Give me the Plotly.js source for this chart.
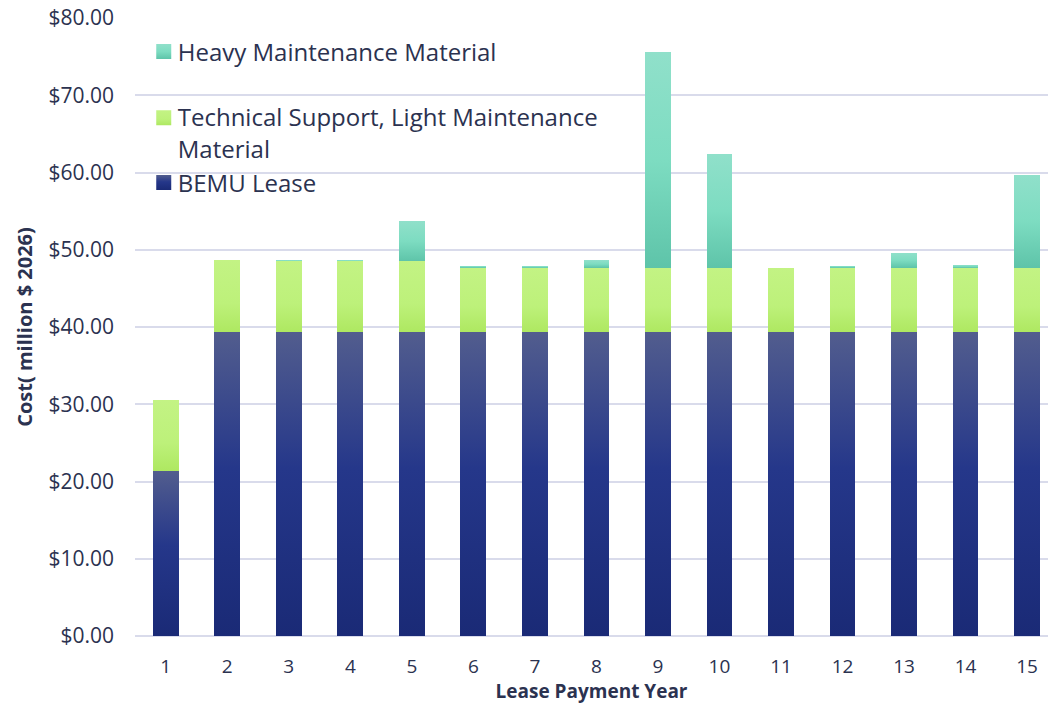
<!DOCTYPE html>
<html>
<head>
<meta charset="utf-8">
<script src="https://cdn.plot.ly/plotly-3.0.1.min.js"></script>
<style>
  html, body { margin: 0; padding: 0; background: #ffffff; }
  #chart { width: 1048px; height: 704px; }
</style>
</head>
<body>
<div id="chart"></div>
<script>
// ---- Data ----
var years = [1, 2, 3, 4, 5, 6, 7, 8, 9, 10, 11, 12, 13, 14, 15];
var bemuLease = [21.35, 39.35, 39.35, 39.35, 39.35, 39.35, 39.35, 39.35, 39.35, 39.35, 39.35, 39.35, 39.35, 39.35, 39.35];
var techSupport = [9.2, 9.3, 9.15, 9.15, 9.15, 8.3, 8.3, 8.3, 8.3, 8.3, 8.35, 8.3, 8.3, 8.3, 8.3];
var heavyMaint = [0, 0, 0.15, 0.15, 5.2, 0.3, 0.25, 1.0, 27.9, 14.75, 0, 0.3, 1.95, 0.4, 12.05];
var yTickVals = [0, 10, 20, 30, 40, 50, 60, 70, 80];
var yTickText = ["$0.00", "$10.00", "$20.00", "$30.00", "$40.00", "$50.00", "$60.00", "$70.00", "$80.00"];
var seriesNames = ["BEMU Lease", "Technical Support, Light Maintenance<br>Material", "Heavy Maintenance Material"];

var FONT = "Open Sans, Noto Sans, sans-serif";
var TXT = "#2b3250";

var traces = [
  { type: "bar", name: seriesNames[0], x: years, y: bemuLease,
    marker: { color: "#2a3a85", line: { width: 0 } }, legend: "legend3", hoverinfo: "y" },
  { type: "bar", name: seriesNames[1], x: years, y: techSupport,
    marker: { color: "#bcf078", line: { width: 0 } }, legend: "legend2", hoverinfo: "y" },
  { type: "bar", name: seriesNames[2], x: years, y: heavyMaint,
    marker: { color: "#7fd9bf", line: { width: 0 } }, legend: "legend", hoverinfo: "y" }
];

function legendBox(y) {
  return { x: 0.003, y: y, xanchor: "left", yanchor: "middle", bgcolor: "rgba(0,0,0,0)",
           font: { family: FONT, size: 24, color: TXT }, itemclick: false, itemdoubleclick: false };
}

var layout = {
  width: 1048, height: 704,
  margin: { l: 135, r: 0, t: 18, b: 68 },
  paper_bgcolor: "#ffffff", plot_bgcolor: "#ffffff",
  barmode: "stack", bargap: 0.58,
  showlegend: true,
  legend: legendBox(0.945),
  legend2: legendBox(0.814),
  legend3: legendBox(0.733),
  xaxis: {
    range: [0.5, 15.34], tickmode: "array", tickvals: years, ticktext: years.map(String),
    showgrid: false, zeroline: false, showline: false, ticks: "",
    ticklabelstandoff: 17,
    tickfont: { family: FONT, size: 19, color: TXT },
    title: { text: "<b>Lease Payment Year</b>", font: { family: FONT, size: 19, color: TXT }, standoff: 3 }
  },
  yaxis: {
    range: [0, 80], tickmode: "array", tickvals: yTickVals, ticktext: yTickText,
    showgrid: true, gridcolor: "#d9dbeb", gridwidth: 2,
    zeroline: true, zerolinecolor: "#d9dbeb", zerolinewidth: 2,
    showline: false, ticks: "", ticklabelstandoff: 20,
    tickfont: { family: FONT, size: 21, color: TXT },
    title: { text: "<b>Cost( million $ 2026)</b>", font: { family: FONT, size: 20, color: TXT }, standoff: 10 }
  }
};

var gradStops = [
  [["0", "#525d8e"], ["0.45", "#25378a"], ["1", "#1a2a76"]],
  [["0", "#c3f384"], ["0.6", "#bdf17a"], ["1", "#aee861"]],
  [["0", "#90e0ca"], ["0.5", "#7ddcc1"], ["1", "#5ec4a9"]]
];

function applyGradients(gd) {
  var svg = gd.querySelector("svg.main-svg");
  if (!svg) return;
  var ns = "http://www.w3.org/2000/svg";
  var defs = svg.querySelector("defs");
  if (!defs) { defs = document.createElementNS(ns, "defs"); svg.insertBefore(defs, svg.firstChild); }
  gradStops.forEach(function (stops, i) {
    if (document.getElementById("bargrad" + i)) return;
    var lg = document.createElementNS(ns, "linearGradient");
    lg.setAttribute("id", "bargrad" + i);
    lg.setAttribute("x1", "0"); lg.setAttribute("y1", "0");
    lg.setAttribute("x2", "0"); lg.setAttribute("y2", "1");
    stops.forEach(function (s) {
      var st = document.createElementNS(ns, "stop");
      st.setAttribute("offset", s[0]); st.setAttribute("stop-color", s[1]);
      lg.appendChild(st);
    });
    defs.appendChild(lg);
  });
  var groups = gd.querySelectorAll(".barlayer .trace");
  groups.forEach(function (g, i) {
    g.querySelectorAll(".point path").forEach(function (p) {
      p.style.fill = "url(#bargrad" + i + ")";
    });
  });
  // legend swatches: slightly larger, shifted toward the text, with the same gradients
  var legendMap = { "legend": [2, 0], "legend2": [1, -15], "legend3": [0, 0] };
  Object.keys(legendMap).forEach(function (cls) {
    var lg = gd.querySelector("g." + cls);
    if (!lg) return;
    var info = legendMap[cls];
    lg.querySelectorAll(".legendpoints path").forEach(function (p) {
      p.style.fill = "url(#bargrad" + info[0] + ")";
      p.setAttribute("transform", "translate(26," + info[1] + ") scale(1.25)");
    });
  });
}

var gd = document.getElementById("chart");
Plotly.newPlot(gd, traces, layout, { displayModeBar: false, staticPlot: true }).then(function () {
  applyGradients(gd);
});
</script>
</body>
</html>
